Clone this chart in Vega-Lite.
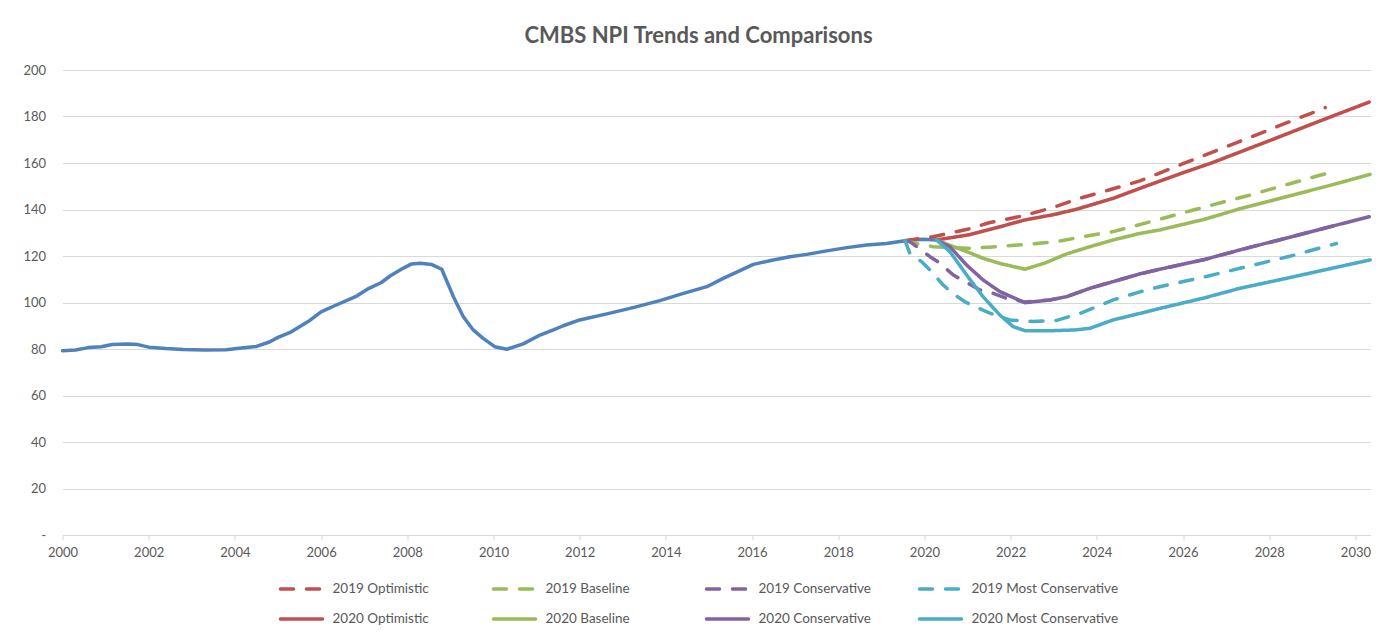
{
  "$schema": "https://vega.github.io/schema/vega-lite/v6.json",
  "width": 1308,
  "height": 465,
  "autosize": {"type": "none"},
  "padding": {"left": 62.5, "top": 70, "right": 23.5, "bottom": 102},
  "background": "white",
  "title": {
    "text": "CMBS NPI Trends and Comparisons",
    "font": "Lato",
    "fontSize": 22,
    "fontWeight": "bold",
    "color": "#595959",
    "anchor": "middle",
    "frame": "group",
    "baseline": "middle",
    "offset": 6,
    "dx": -18
  },
  "config": {
    "view": {"stroke": null},
    "font": "Lato"
  },
  "datasets": {
    "hist": [
      {"year": 2000.0, "value": 79.3},
      {"year": 2000.3, "value": 79.6},
      {"year": 2000.6, "value": 80.6},
      {"year": 2000.9, "value": 81.0},
      {"year": 2001.15, "value": 81.9},
      {"year": 2001.5, "value": 82.1},
      {"year": 2001.75, "value": 81.9},
      {"year": 2002.0, "value": 80.8},
      {"year": 2002.4, "value": 80.2},
      {"year": 2002.8, "value": 79.8},
      {"year": 2003.3, "value": 79.6},
      {"year": 2003.8, "value": 79.7},
      {"year": 2004.1, "value": 80.3},
      {"year": 2004.5, "value": 81.1},
      {"year": 2004.8, "value": 83.0},
      {"year": 2005.0, "value": 85.0},
      {"year": 2005.3, "value": 87.3},
      {"year": 2005.7, "value": 91.8},
      {"year": 2006.0, "value": 96.0},
      {"year": 2006.3, "value": 98.5},
      {"year": 2006.8, "value": 102.5},
      {"year": 2007.1, "value": 106.0},
      {"year": 2007.4, "value": 108.6},
      {"year": 2007.6, "value": 111.4},
      {"year": 2007.9, "value": 114.7},
      {"year": 2008.1, "value": 116.6},
      {"year": 2008.3, "value": 116.9},
      {"year": 2008.57, "value": 116.3},
      {"year": 2008.8, "value": 114.3},
      {"year": 2009.07, "value": 102.5},
      {"year": 2009.3, "value": 93.9},
      {"year": 2009.53, "value": 88.2},
      {"year": 2009.76, "value": 84.6},
      {"year": 2010.03, "value": 81.0},
      {"year": 2010.31, "value": 79.9},
      {"year": 2010.69, "value": 82.2},
      {"year": 2011.08, "value": 86.0},
      {"year": 2011.39, "value": 88.2},
      {"year": 2011.62, "value": 90.0},
      {"year": 2012.0, "value": 92.5},
      {"year": 2012.63, "value": 95.1},
      {"year": 2013.24, "value": 97.8},
      {"year": 2013.86, "value": 100.8},
      {"year": 2014.33, "value": 103.5},
      {"year": 2014.95, "value": 106.8},
      {"year": 2015.33, "value": 110.4},
      {"year": 2015.72, "value": 113.7},
      {"year": 2016.03, "value": 116.4},
      {"year": 2016.49, "value": 118.3},
      {"year": 2016.88, "value": 119.7},
      {"year": 2017.27, "value": 120.7},
      {"year": 2017.73, "value": 122.2},
      {"year": 2018.2, "value": 123.6},
      {"year": 2018.66, "value": 124.7},
      {"year": 2019.12, "value": 125.4},
      {"year": 2019.55, "value": 126.6},
      {"year": 2019.95, "value": 127.2},
      {"year": 2020.28, "value": 126.9}
    ],
    "scen": [
      {"series": "2019 Optimistic", "year": 2019.55, "value": 126.6},
      {"series": "2019 Optimistic", "year": 2020.2, "value": 128.3},
      {"series": "2019 Optimistic", "year": 2021.0, "value": 131.5},
      {"series": "2019 Optimistic", "year": 2021.5, "value": 134.3},
      {"series": "2019 Optimistic", "year": 2022.3, "value": 137.3},
      {"series": "2019 Optimistic", "year": 2023.0, "value": 141.0},
      {"series": "2019 Optimistic", "year": 2023.6, "value": 144.8},
      {"series": "2019 Optimistic", "year": 2024.3, "value": 148.5},
      {"series": "2019 Optimistic", "year": 2025.0, "value": 152.3},
      {"series": "2019 Optimistic", "year": 2026.0, "value": 159.7},
      {"series": "2019 Optimistic", "year": 2027.0, "value": 167.0},
      {"series": "2019 Optimistic", "year": 2028.0, "value": 174.3},
      {"series": "2019 Optimistic", "year": 2029.0, "value": 181.6},
      {"series": "2019 Optimistic", "year": 2029.3, "value": 183.8},

      {"series": "2019 Baseline", "year": 2019.55, "value": 126.6},
      {"series": "2019 Baseline", "year": 2019.8, "value": 125.5},
      {"series": "2019 Baseline", "year": 2020.2, "value": 124.0},
      {"series": "2019 Baseline", "year": 2021.0, "value": 123.3},
      {"series": "2019 Baseline", "year": 2021.5, "value": 123.8},
      {"series": "2019 Baseline", "year": 2022.37, "value": 125.0},
      {"series": "2019 Baseline", "year": 2023.07, "value": 126.2},
      {"series": "2019 Baseline", "year": 2023.68, "value": 128.3},
      {"series": "2019 Baseline", "year": 2024.38, "value": 130.5},
      {"series": "2019 Baseline", "year": 2025.46, "value": 135.8},
      {"series": "2019 Baseline", "year": 2026.24, "value": 139.8},
      {"series": "2019 Baseline", "year": 2027.55, "value": 146.2},
      {"series": "2019 Baseline", "year": 2028.5, "value": 151.2},
      {"series": "2019 Baseline", "year": 2029.56, "value": 156.7},

      {"series": "2019 Conservative", "year": 2019.55, "value": 126.6},
      {"series": "2019 Conservative", "year": 2019.66, "value": 126.2},
      {"series": "2019 Conservative", "year": 2019.82, "value": 124.0},
      {"series": "2019 Conservative", "year": 2020.13, "value": 119.7},
      {"series": "2019 Conservative", "year": 2020.36, "value": 116.9},
      {"series": "2019 Conservative", "year": 2020.67, "value": 111.8},
      {"series": "2019 Conservative", "year": 2020.9, "value": 109.4},
      {"series": "2019 Conservative", "year": 2021.29, "value": 105.4},
      {"series": "2019 Conservative", "year": 2021.52, "value": 104.4},
      {"series": "2019 Conservative", "year": 2021.91, "value": 101.8},
      {"series": "2019 Conservative", "year": 2022.33, "value": 100.2},
      {"series": "2019 Conservative", "year": 2022.91, "value": 101.1},
      {"series": "2019 Conservative", "year": 2023.3, "value": 102.5},
      {"series": "2019 Conservative", "year": 2023.84, "value": 106.1},
      {"series": "2019 Conservative", "year": 2024.38, "value": 109.0},
      {"series": "2019 Conservative", "year": 2025.0, "value": 112.3},
      {"series": "2019 Conservative", "year": 2025.46, "value": 114.3},
      {"series": "2019 Conservative", "year": 2026.5, "value": 118.5},
      {"series": "2019 Conservative", "year": 2027.32, "value": 122.6},
      {"series": "2019 Conservative", "year": 2028.5, "value": 128.2},
      {"series": "2019 Conservative", "year": 2029.56, "value": 133.3},

      {"series": "2019 Most Conservative", "year": 2019.55, "value": 126.6},
      {"series": "2019 Most Conservative", "year": 2019.66, "value": 121.2},
      {"series": "2019 Most Conservative", "year": 2019.93, "value": 117.6},
      {"series": "2019 Most Conservative", "year": 2020.17, "value": 113.2},
      {"series": "2019 Most Conservative", "year": 2020.4, "value": 108.2},
      {"series": "2019 Most Conservative", "year": 2020.63, "value": 104.2},
      {"series": "2019 Most Conservative", "year": 2020.94, "value": 100.3},
      {"series": "2019 Most Conservative", "year": 2021.21, "value": 97.9},
      {"series": "2019 Most Conservative", "year": 2021.52, "value": 95.4},
      {"series": "2019 Most Conservative", "year": 2021.98, "value": 92.5},
      {"series": "2019 Most Conservative", "year": 2022.52, "value": 91.8},
      {"series": "2019 Most Conservative", "year": 2023.07, "value": 92.3},
      {"series": "2019 Most Conservative", "year": 2023.61, "value": 95.3},
      {"series": "2019 Most Conservative", "year": 2024.38, "value": 101.1},
      {"series": "2019 Most Conservative", "year": 2025.0, "value": 104.6},
      {"series": "2019 Most Conservative", "year": 2025.46, "value": 106.8},
      {"series": "2019 Most Conservative", "year": 2026.5, "value": 111.0},
      {"series": "2019 Most Conservative", "year": 2027.32, "value": 114.7},
      {"series": "2019 Most Conservative", "year": 2028.5, "value": 120.0},
      {"series": "2019 Most Conservative", "year": 2029.56, "value": 125.4},

      {"series": "2020 Optimistic", "year": 2020.28, "value": 126.9},
      {"series": "2020 Optimistic", "year": 2021.0, "value": 129.0},
      {"series": "2020 Optimistic", "year": 2021.7, "value": 132.3},
      {"series": "2020 Optimistic", "year": 2022.33, "value": 135.5},
      {"series": "2020 Optimistic", "year": 2023.0, "value": 137.8},
      {"series": "2020 Optimistic", "year": 2023.53, "value": 140.1},
      {"series": "2020 Optimistic", "year": 2024.38, "value": 144.8},
      {"series": "2020 Optimistic", "year": 2025.0, "value": 149.1},
      {"series": "2020 Optimistic", "year": 2026.0, "value": 155.8},
      {"series": "2020 Optimistic", "year": 2026.66, "value": 160.0},
      {"series": "2020 Optimistic", "year": 2027.5, "value": 166.0},
      {"series": "2020 Optimistic", "year": 2028.09, "value": 170.2},
      {"series": "2020 Optimistic", "year": 2029.0, "value": 176.8},
      {"series": "2020 Optimistic", "year": 2029.56, "value": 180.8},
      {"series": "2020 Optimistic", "year": 2030.32, "value": 186.2},

      {"series": "2020 Baseline", "year": 2020.28, "value": 126.9},
      {"series": "2020 Baseline", "year": 2020.6, "value": 124.5},
      {"series": "2020 Baseline", "year": 2020.98, "value": 121.9},
      {"series": "2020 Baseline", "year": 2021.36, "value": 119.0},
      {"series": "2020 Baseline", "year": 2021.75, "value": 116.8},
      {"series": "2020 Baseline", "year": 2022.33, "value": 114.3},
      {"series": "2020 Baseline", "year": 2022.8, "value": 117.0},
      {"series": "2020 Baseline", "year": 2023.3, "value": 120.9},
      {"series": "2020 Baseline", "year": 2023.84, "value": 124.0},
      {"series": "2020 Baseline", "year": 2024.38, "value": 126.9},
      {"series": "2020 Baseline", "year": 2025.0, "value": 129.7},
      {"series": "2020 Baseline", "year": 2025.46, "value": 131.2},
      {"series": "2020 Baseline", "year": 2026.5, "value": 135.8},
      {"series": "2020 Baseline", "year": 2027.32, "value": 140.3},
      {"series": "2020 Baseline", "year": 2028.5, "value": 146.0},
      {"series": "2020 Baseline", "year": 2029.5, "value": 150.8},
      {"series": "2020 Baseline", "year": 2030.34, "value": 155.1},

      {"series": "2020 Conservative", "year": 2020.28, "value": 126.9},
      {"series": "2020 Conservative", "year": 2020.59, "value": 124.0},
      {"series": "2020 Conservative", "year": 2020.98, "value": 116.1},
      {"series": "2020 Conservative", "year": 2021.36, "value": 109.7},
      {"series": "2020 Conservative", "year": 2021.75, "value": 104.7},
      {"series": "2020 Conservative", "year": 2022.33, "value": 99.9},
      {"series": "2020 Conservative", "year": 2022.91, "value": 101.1},
      {"series": "2020 Conservative", "year": 2023.3, "value": 102.5},
      {"series": "2020 Conservative", "year": 2023.84, "value": 106.1},
      {"series": "2020 Conservative", "year": 2024.38, "value": 109.0},
      {"series": "2020 Conservative", "year": 2025.0, "value": 112.3},
      {"series": "2020 Conservative", "year": 2025.46, "value": 114.3},
      {"series": "2020 Conservative", "year": 2026.5, "value": 118.5},
      {"series": "2020 Conservative", "year": 2027.32, "value": 122.6},
      {"series": "2020 Conservative", "year": 2028.5, "value": 128.2},
      {"series": "2020 Conservative", "year": 2029.56, "value": 133.3},
      {"series": "2020 Conservative", "year": 2030.32, "value": 136.9},

      {"series": "2020 Most Conservative", "year": 2020.28, "value": 126.9},
      {"series": "2020 Most Conservative", "year": 2020.59, "value": 121.9},
      {"series": "2020 Most Conservative", "year": 2020.98, "value": 111.8},
      {"series": "2020 Most Conservative", "year": 2021.36, "value": 102.5},
      {"series": "2020 Most Conservative", "year": 2021.75, "value": 94.6},
      {"series": "2020 Most Conservative", "year": 2022.06, "value": 89.6},
      {"series": "2020 Most Conservative", "year": 2022.33, "value": 87.9},
      {"series": "2020 Most Conservative", "year": 2023.0, "value": 87.9},
      {"series": "2020 Most Conservative", "year": 2023.5, "value": 88.2},
      {"series": "2020 Most Conservative", "year": 2023.84, "value": 88.9},
      {"series": "2020 Most Conservative", "year": 2024.38, "value": 92.5},
      {"series": "2020 Most Conservative", "year": 2025.0, "value": 95.3},
      {"series": "2020 Most Conservative", "year": 2025.5, "value": 97.6},
      {"series": "2020 Most Conservative", "year": 2026.5, "value": 102.0},
      {"series": "2020 Most Conservative", "year": 2027.32, "value": 106.1},
      {"series": "2020 Most Conservative", "year": 2028.5, "value": 110.8},
      {"series": "2020 Most Conservative", "year": 2029.5, "value": 114.9},
      {"series": "2020 Most Conservative", "year": 2030.34, "value": 118.3}
    ]
  },
  "encoding": {
    "x": {
      "field": "year",
      "type": "quantitative",
      "scale": {"domain": [2000, 2030.35], "nice": false, "zero": false},
      "axis": {
        "title": null,
        "values": [2000, 2002, 2004, 2006, 2008, 2010, 2012, 2014, 2016, 2018, 2020, 2022, 2024, 2026, 2028, 2030],
        "format": "d",
        "grid": false,
        "domainColor": "#D9D9D9",
        "domainWidth": 1,
        "tickColor": "#D9D9D9",
        "tickSize": 5,
        "labelColor": "#595959",
        "labelFont": "Lato",
        "labelFontSize": 13,
        "labelPadding": 6,
        "labelFlush": false
      }
    },
    "y": {
      "field": "value",
      "type": "quantitative",
      "scale": {"domain": [0, 200], "nice": false},
      "axis": {
        "title": null,
        "values": [0, 20, 40, 60, 80, 100, 120, 140, 160, 180, 200],
        "labelExpr": "datum.value == 0 ? '- ' : datum.label",
        "domain": false,
        "ticks": false,
        "gridColor": "#D9D9D9",
        "gridWidth": 1,
        "labelColor": "#595959",
        "labelFont": "Lato",
        "labelFontSize": 13,
        "labelPadding": 17
      }
    }
  },
  "layer": [
    {
      "data": {"name": "hist"},
      "mark": {"type": "line", "strokeWidth": 3.5, "color": "#4F81BD", "strokeCap": "round", "strokeJoin": "round"},
      "encoding": {}
    },
    {
      "data": {"name": "scen"},
      "mark": {"type": "line", "strokeWidth": 3.5, "strokeCap": "round", "strokeJoin": "round"},
      "encoding": {
        "color": {
          "field": "series",
          "type": "nominal",
          "scale": {
            "domain": ["2019 Optimistic", "2019 Baseline", "2019 Conservative", "2019 Most Conservative", "2020 Optimistic", "2020 Baseline", "2020 Conservative", "2020 Most Conservative"],
            "range": ["#C0504D", "#9BBB59", "#8064A2", "#4BACC6", "#C0504D", "#9BBB59", "#8064A2", "#4BACC6"]
          },
          "legend": {
            "title": null,
            "orient": "none",
            "legendX": 216,
            "legendY": 496,
            "direction": "horizontal",
            "columns": 4,
            "gridAlign": "all",
            "columnPadding": 7,
            "rowPadding": -14,
            "padding": 0,
            "symbolType": "stroke",
            "symbolSize": 1764,
            "symbolStrokeWidth": 3.5,
            "labelFont": "Lato",
            "labelFontSize": 13.5,
            "labelColor": "#595959",
            "labelOffset": 8,
            "labelLimit": 300,
            "encode": {"symbols": {"update": {"strokeCap": {"value": "round"}}}}
          }
        },
        "strokeDash": {
          "field": "series",
          "type": "nominal",
          "scale": {
            "domain": ["2019 Optimistic", "2019 Baseline", "2019 Conservative", "2019 Most Conservative", "2020 Optimistic", "2020 Baseline", "2020 Conservative", "2020 Most Conservative"],
            "range": [[13, 13], [13, 13], [13, 13], [13, 13], [1, 0], [1, 0], [1, 0], [1, 0]]
          },
          "legend": {
            "title": null,
            "orient": "none",
            "legendX": 216,
            "legendY": 496,
            "direction": "horizontal",
            "columns": 4,
            "gridAlign": "all",
            "columnPadding": 7,
            "rowPadding": -14,
            "padding": 0,
            "symbolType": "stroke",
            "symbolSize": 1764,
            "symbolStrokeWidth": 3.5,
            "labelFont": "Lato",
            "labelFontSize": 13.5,
            "labelColor": "#595959",
            "labelOffset": 8,
            "labelLimit": 300,
            "encode": {"symbols": {"update": {"strokeCap": {"value": "round"}}}}
          }
        }
      }
    }
  ]
}
